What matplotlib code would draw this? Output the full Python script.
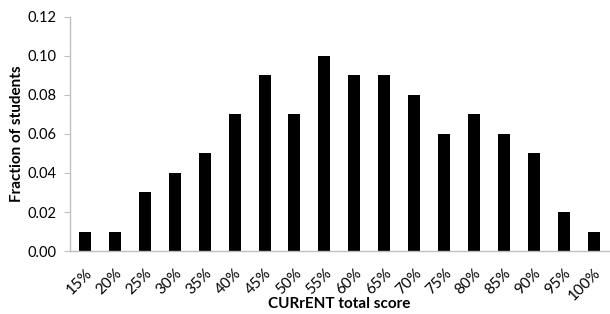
import matplotlib
matplotlib.use("Agg")
import matplotlib.pyplot as plt

plt.rcParams['font.family'] = ['Lato', 'DejaVu Sans']

scores = ["15%", "20%", "25%", "30%", "35%", "40%", "45%", "50%", "55%",
          "60%", "65%", "70%", "75%", "80%", "85%", "90%", "95%", "100%"]
fractions = [0.01, 0.01, 0.03, 0.04, 0.05, 0.07, 0.09, 0.07, 0.10,
             0.09, 0.09, 0.08, 0.06, 0.07, 0.06, 0.05, 0.02, 0.01]

fig = plt.figure(figsize=(6.1, 3.14), dpi=100)
ax = fig.add_axes([0.1148, 0.2006, 0.883, 0.7454])

x = range(len(scores))
ax.bar(x, fractions, width=0.4, color="black")

ax.set_xlim(-0.5, len(scores) - 0.5)
ax.set_ylim(0, 0.12)
yt = [0, 0.02, 0.04, 0.06, 0.08, 0.10, 0.12]
ax.set_yticks(yt)
ax.set_yticklabels([f"{v:.2f}" for v in yt], fontsize=10.5)
ax.set_xticks(list(x))
ax.set_xticklabels(scores, rotation=45, ha="right", rotation_mode="anchor", fontsize=11)
ax.tick_params(axis="x", length=0, pad=11)
ax.tick_params(axis="y", length=4, color="#bfbfbf", direction="out", pad=6)

for side in ["top", "right"]:
    ax.spines[side].set_visible(False)
for side in ["left", "bottom"]:
    ax.spines[side].set_color("#bfbfbf")
    ax.spines[side].set_linewidth(1)

ax.set_xlabel("CURrENT total score", fontsize=11, fontweight="bold")
ax.xaxis.set_label_coords(0.5, -0.228)
ax.xaxis.label.set_va("center")
ax.set_ylabel("Fraction of students", fontsize=11, fontweight="bold")
ax.yaxis.set_label_coords(-0.098, 0.5)
ax.yaxis.label.set_va("center")

fig.savefig("out.png", dpi=100)
